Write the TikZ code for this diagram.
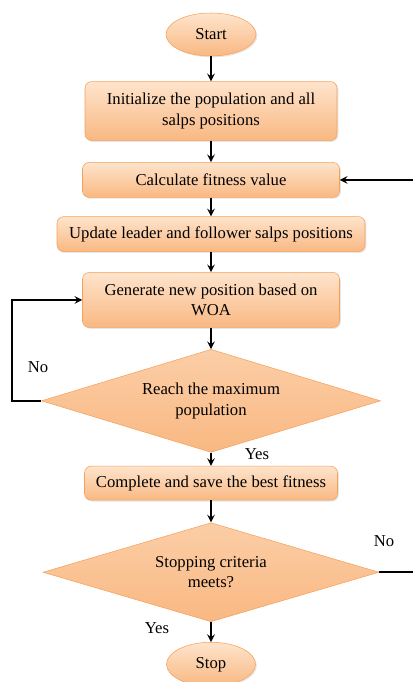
\documentclass[tikz,border=0pt]{standalone}
\usepackage{fontspec}
\setmainfont{Liberation Serif}
\usetikzlibrary{shapes.geometric, arrows, positioning, shadows}
\definecolor{peachtop}{RGB}{254,228,204}
\definecolor{peachbot}{RGB}{249,184,130}
\definecolor{peachline}{RGB}{247,160,90}
\tikzstyle{process} = [rectangle, rounded corners=5pt, text centered, align=center, draw=peachline, top color=peachtop, bottom color=peachbot, drop shadow={opacity=0.2, shadow xshift=1pt, shadow yshift=-1pt}, font=\fontsize{12.5}{15.5}\selectfont]
\tikzstyle{terminal} = [ellipse, text centered, draw=peachline, top color=peachtop, bottom color=peachbot, drop shadow={opacity=0.2, shadow xshift=1pt, shadow yshift=-1pt}, font=\fontsize{12.5}{15.5}\selectfont]
\tikzstyle{decision} = [diamond, aspect=3.3, inner sep=1pt, align=center, draw=peachline, top color=peachtop!50!peachbot, bottom color=peachbot, font=\fontsize{12.5}{15.5}\selectfont]
\tikzstyle{arrow} = [line width=1.5pt, ->, >=stealth]
\tikzstyle{line} = [line width=1.5pt, -]
\tikzstyle{answer} = [font=\fontsize{12.5}{14}\selectfont]

\begin{document}
\begin{tikzpicture}[x=0.75pt, y=-0.75pt]
        \useasboundingbox (0,0) rectangle (413,682);
        % \draw[help lines] (0,0) grid (413,682);
        \node (start) [terminal, minimum width=67.5pt, minimum height=32.25pt] at (211,34.5) {Start};
        \node (init) [process, minimum width=189pt, minimum height=44.25pt, below=18.75pt of start] {Initialize the population and all\\ salps positions};
        \node (calc) [process, minimum width=192.75pt, minimum height=26.25pt, below=16pt of init] {Calculate fitness value};
        \node (update) [process, minimum width=231pt, minimum height=26.25pt, below=14pt of calc] {Update leader and follower salps positions};
        \node (gen) [process, minimum width=192.75pt, minimum height=41.25pt, below=15.25pt of update] {Generate new position based on\\ WOA};
        \node (reach) [decision, minimum width=254.25pt, minimum height=77.25pt, below=16pt of gen] {Reach the maximum\\ population};
        \node (save) [process, minimum width=189.75pt, minimum height=25.5pt, below=10pt of reach] {Complete and save the best fitness};
        \node (stopq) [decision, minimum width=252pt, minimum height=74.25pt, below=16.5pt of save] {Stopping criteria\\ meets?};
        \node (stop) [terminal, minimum width=66.75pt, minimum height=33pt, below=15pt of stopq] {Stop};

        \node (no1) [answer] at (38,367) {No};
        \node (yes1) [answer] at (257,454) {Yes};
        \node (no2) [answer] at (384,541) {No};
        \node (yes2) [answer] at (157,628) {Yes};

        \coordinate (E) at (413,0); % right edge, the loop back runs off the page
        \coordinate (L) at ([xshift=-21.75pt]reach.west);
        \coordinate (R1) at (stopq.east -| E);
        \coordinate (R2) at (calc.east -| E);

        \draw [arrow] (start) -- (init);
        \draw [arrow] (init) -- (calc);
        \draw [arrow] (calc) -- (update);
        \draw [arrow] (update) -- (gen);
        \draw [arrow] (gen) -- (reach);
        \draw [arrow] (reach) -- (save);
        \draw [arrow] (save) -- (stopq);
        \draw [arrow] (stopq) -- (stop);

        \draw [arrow] (reach.west) -- (L) |- (gen.west);
        \draw [line] (stopq.east) -- (R1);
        \draw [arrow] (R2) -- (calc.east);

    \end{tikzpicture}
\end{document}
